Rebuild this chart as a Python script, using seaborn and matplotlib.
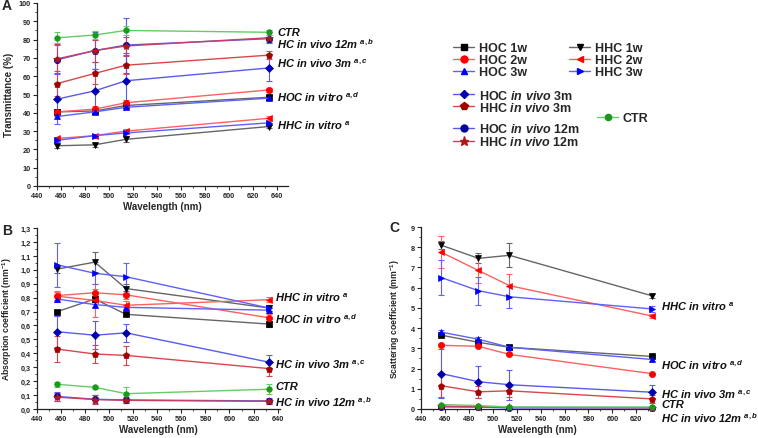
import matplotlib
matplotlib.use("Agg")
import matplotlib.pyplot as plt
import seaborn as sns
import numpy as np
import pandas as pd
from matplotlib.lines import Line2D
from matplotlib.ticker import MultipleLocator, FuncFormatter

# ---------------- data ----------------
wavelengths = [457, 488, 514, 633]

series = ["HOC 1w", "HOC 2w", "HOC 3w", "HHC 1w", "HHC 2w", "HHC 3w",
          "HOC in vivo 3m", "HHC in vivo 3m", "HOC in vivo 12m", "HHC in vivo 12m", "CTR"]

legend_labels = ["HOC 1w", "HOC 2w", "HOC 3w", "HHC 1w", "HHC 2w", "HHC 3w",
                 r"HOC $\mathit{in\ vivo}$ 3m", r"HHC $\mathit{in\ vivo}$ 3m",
                 r"HOC $\mathit{in\ vivo}$ 12m", r"HHC $\mathit{in\ vivo}$ 12m", "CTR"]

trans_values = [
    [40.5, 41, 44, 48.5],
    [40.5, 42, 45.5, 52.5],
    [38, 40.5, 43, 48],
    [22, 22.5, 25.5, 32.5],
    [26, 27.5, 30, 37],
    [25, 27.5, 29, 34.5],
    [47.5, 52, 57.5, 64.5],
    [56, 61.5, 66, 71.5],
    [69, 74, 77, 80.5],
    [69.5, 74, 76.5, 81],
    [81, 82.5, 85, 84],
]
trans_errors = [
    [1, 1, 1, 1],
    [1.5, 1.5, 1.5, 1],
    [4, 1, 1, 1],
    [1, 1, 1.5, 1],
    [1, 1, 1, 1],
    [1, 1, 1.5, 1],
    [9, 12, 15, 7],
    [7, 6, 5, 2],
    [8, 10, 15, 2],
    [8, 6, 5, 3],
    [3, 2, 2.5, 1.5],
]

absorb_values = [
    [0.70, 0.79, 0.68, 0.61],
    [0.815, 0.835, 0.82, 0.655],
    [0.79, 0.75, 0.73, 0.71],
    [1.005, 1.055, 0.865, 0.725],
    [0.81, 0.78, 0.745, 0.785],
    [1.035, 0.975, 0.95, 0.725],
    [0.555, 0.53, 0.547, 0.336],
    [0.43, 0.395, 0.385, 0.29],
    [0.09, 0.07, 0.065, 0.058],
    [0.085, 0.068, 0.062, 0.055],
    [0.177, 0.156, 0.11, 0.142],
]
absorb_errors = [
    [0.01, 0.02, 0.01, 0.02],
    [0.03, 0.03, 0.03, 0.03],
    [0.02, 0.02, 0.02, 0.02],
    [0.03, 0.07, 0.03, 0.02],
    [0.03, 0.12, 0.03, 0.02],
    [0.16, 0.08, 0.10, 0.02],
    [0.11, 0.10, 0.065, 0.05],
    [0.095, 0.065, 0.07, 0.05],
    [0.035, 0.03, 0.02, 0.02],
    [0.03, 0.03, 0.02, 0.02],
    [0.02, 0.01, 0.045, 0.035],
]

scatter_values = [
    [3.65, 3.3, 3.05, 2.6],
    [3.15, 3.1, 2.7, 1.75],
    [3.8, 3.45, 3.05, 2.45],
    [8.1, 7.45, 7.6, 5.6],
    [7.75, 6.85, 6.1, 4.6],
    [6.5, 5.85, 5.55, 4.95],
    [1.75, 1.35, 1.2, 0.83],
    [1.15, 0.85, 0.9, 0.5],
    [0.1, 0.1, 0.05, 0.05],
    [0.15, 0.1, 0.08, 0.06],
    [0.22, 0.17, 0.1, 0.1],
]
scatter_errors = [
    [0.05, 0.05, 0.05, 0.05],
    [0.05, 0.05, 0.05, 0.05],
    [0.1, 0.1, 0.1, 0.1],
    [0.2, 0.25, 0.6, 0.1],
    [0.8, 0.6, 0.6, 0.1],
    [0.85, 0.7, 0.55, 0.15],
    [1.2, 0.8, 0.75, 0.35],
    [0.55, 0.3, 0.3, 0.2],
    [0.05, 0.05, 0.05, 0.05],
    [0.05, 0.05, 0.05, 0.05],
    [0.05, 0.05, 0.05, 0.05],
]

# ---------------- styles ----------------
line_colors = ["#666666", "#ff6060", "#6060ff", "#666666", "#ff6060", "#6060ff",
               "#5a5af0", "#d84848", "#5a5af0", "#c84060", "#66cc66"]
marker_colors = ["#000000", "#ff0000", "#0000ff", "#000000", "#ff0000", "#0000ff",
                 "#0000b0", "#a00000", "#0000a0", "#b01818", "#1a9a1a"]
markers = ["s", "o", "^", "v", "<", ">", "D", "p", "o", "*", "o"]
msizes = [4, 4.5, 4.5, 4.5, 4.5, 4.5, 4, 5, 4.5, 6, 4]

sns.set_theme(style="ticks")
plt.rcParams["font.family"] = ["Liberation Sans", "DejaVu Sans"]
plt.rcParams["mathtext.fontset"] = "custom"
plt.rcParams["mathtext.rm"] = "Liberation Sans:bold"
plt.rcParams["mathtext.it"] = "Liberation Sans:italic:bold"
plt.rcParams["mathtext.bf"] = "Liberation Sans:bold"

W, H = 758, 439
fig = plt.figure(figsize=(W / 100, H / 100), dpi=100)


def fx(px):
    return px / W


def fy(py):
    return 1 - py / H


def make_axes(left, top, right, bottom):
    return fig.add_axes([fx(left), fy(bottom), fx(right) - fx(left), fy(top) - fy(bottom)])


axA = make_axes(37, 4, 288, 187)
axB = make_axes(37, 229, 280, 410)
axC = make_axes(421, 228, 653, 410)


def draw_panel(ax, values, errors):
    for i, name in enumerate(series):
        df = pd.DataFrame({"wl": wavelengths, "v": values[i]})
        ax.errorbar(df["wl"], df["v"], yerr=errors[i], fmt="none", ecolor=line_colors[i],
                    elinewidth=0.8, capsize=2, capthick=0.8, clip_on=False, zorder=2)
        sns.lineplot(data=df, x="wl", y="v", ax=ax, color=line_colors[i], linewidth=1,
                     marker=markers[i], markersize=msizes[i], markerfacecolor=marker_colors[i],
                     markeredgecolor=marker_colors[i], markeredgewidth=0.5,
                     errorbar=None, legend=False, clip_on=False, zorder=3)


draw_panel(axA, trans_values, trans_errors)
draw_panel(axB, absorb_values, absorb_errors)
draw_panel(axC, scatter_values, scatter_errors)

tick_fs = 5.3
for ax in (axA, axB, axC):
    sns.despine(ax=ax)
    ax.xaxis.set_major_locator(MultipleLocator(20))
    ax.xaxis.set_minor_locator(MultipleLocator(10))
    ax.tick_params(axis="both", which="major", length=3, width=0.8, labelsize=tick_fs,
                   direction="out", pad=1.5)
    ax.tick_params(axis="both", which="minor", length=1.5, width=0.6, direction="out")
    for sp in ("left", "bottom"):
        ax.spines[sp].set_linewidth(0.9)
        ax.spines[sp].set_color("#222222")
    ax.set_xlabel("Wavelength (nm)", fontsize=7, fontweight="bold", labelpad=1)

axA.set_xlim(440, 649)
axA.set_ylim(0, 100)
axA.yaxis.set_major_locator(MultipleLocator(10))
axA.yaxis.set_minor_locator(MultipleLocator(5))
axA.set_ylabel("Transmittance (%)", fontsize=7, fontweight="bold")
axA.yaxis.set_label_coords(fx(14), fy(95), transform=fig.transFigure)

axB.set_xlim(440, 642)
axB.set_ylim(0, 1.3)
axB.yaxis.set_major_locator(MultipleLocator(0.1))
axB.yaxis.set_minor_locator(MultipleLocator(0.05))
axB.yaxis.set_major_formatter(FuncFormatter(lambda v, p: f"{v:.1f}".replace(".", ",")))
axB.set_ylabel("Absorption coefficient (mm$^{-1}$)", fontsize=6.2, fontweight="bold")
axB.yaxis.set_label_coords(fx(14), fy(319), transform=fig.transFigure)

axC.set_xlim(440, 634)
axC.set_ylim(0, 9)
axC.yaxis.set_major_locator(MultipleLocator(1))
axC.yaxis.set_minor_locator(MultipleLocator(0.5))
axC.set_ylabel("Scattering coefficient (mm$^{-1}$)", fontsize=6.2, fontweight="bold")
axC.yaxis.set_label_coords(fx(402), fy(319), transform=fig.transFigure)

for ax in (axA, axB, axC):
    for lab in ax.get_xticklabels() + ax.get_yticklabels():
        lab.set_fontweight("bold")

# panel letters
fig.text(fx(2), fy(6), "A", fontsize=10, fontweight="bold", va="center", ha="left")
fig.text(fx(2), fy(231), "B", fontsize=10, fontweight="bold", va="center", ha="left")
fig.text(fx(389), fy(228), "C", fontsize=10, fontweight="bold", va="center", ha="left")

# group annotations
ann_A = [("CTR", 33), (r"HC in vivo 12m $^{a,b}$", 44), (r"HC in vivo 3m $^{a,c}$", 64),
         (r"HOC in vitro $^{a,d}$", 97), (r"HHC in vitro $^{a}$", 126)]
ann_B = [(r"HHC in vitro $^{a}$", 298), (r"HOC in vitro $^{a,d}$", 319),
         (r"HC in vivo 3m $^{a,c}$", 365), ("CTR", 387), (r"HC in vivo 12m $^{a,b}$", 402)]
ann_C = [(r"HHC in vitro $^{a}$", 307), (r"HOC in vitro $^{a,d}$", 365),
         (r"HC in vivo 3m $^{a,c}$", 395), ("CTR", 405.5), (r"HC in vivo 12m $^{a,b}$", 418)]
for items, x0 in ((ann_A, 277), (ann_B, 275), (ann_C, 661)):
    for txt, yy in items:
        fig.text(fx(x0), fy(yy), txt, fontsize=8, fontweight="bold", style="italic",
                 va="center", ha="left", color="#111111")

# legend entries placed individually
leg_pos = [(453, 49), (453, 61.5), (453, 73.5), (569, 49), (569, 61.5), (569, 73.5),
           (453, 96), (453, 108), (453, 130), (453, 142.5), (597, 119)]
for i in range(len(series)):
    h = Line2D([], [], color=line_colors[i], linewidth=1, marker=markers[i],
               markersize=msizes[i] + 0.5, markerfacecolor=marker_colors[i],
               markeredgecolor=marker_colors[i])
    xp, yp = leg_pos[i]
    fig.legend(handles=[h], labels=[legend_labels[i]], loc="center left",
               bbox_to_anchor=(fx(xp), fy(yp)), bbox_transform=fig.transFigure,
               frameon=False, borderpad=0, borderaxespad=0, handlelength=1.7,
               handletextpad=0.35, prop={"size": 9, "weight": "bold"})

fig.savefig("out.png", dpi=100)
